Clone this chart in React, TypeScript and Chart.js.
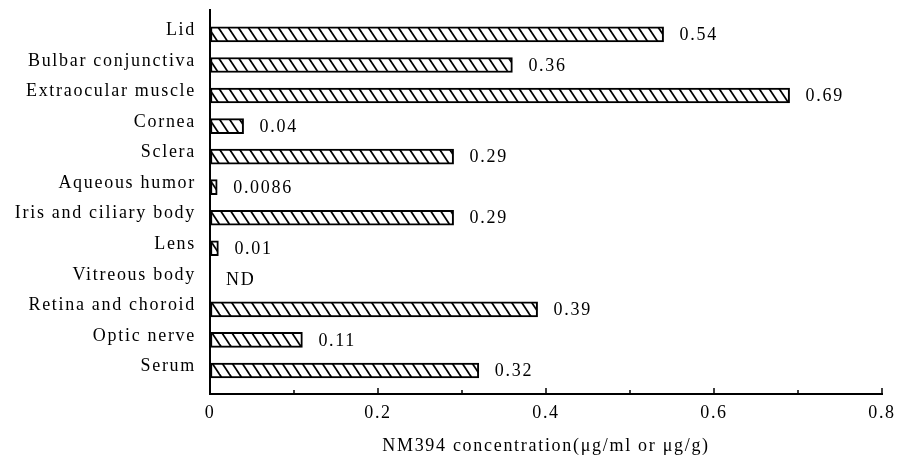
import React, { useEffect, useRef } from 'react';
import { Chart, registerables } from 'chart.js';

Chart.register(...registerables);

const categories = [
  'Lid',
  'Bulbar conjunctiva',
  'Extraocular muscle',
  'Cornea',
  'Sclera',
  'Aqueous humor',
  'Iris and ciliary body',
  'Lens',
  'Vitreous body',
  'Retina and choroid',
  'Optic nerve',
  'Serum',
];
const values: (number | null)[] = [0.54, 0.36, 0.69, 0.04, 0.29, 0.0086, 0.29, 0.01, null, 0.39, 0.11, 0.32];
const valueLabels = ['0.54', '0.36', '0.69', '0.04', '0.29', '0.0086', '0.29', '0.01', 'ND', '0.39', '0.11', '0.32'];
const xMin = 0;
const xMax = 0.8;
const xStep = 0.1;
const xLabeled = ['0', '0.2', '0.4', '0.6', '0.8'];
const xTitle = 'NM394 concentration(μg/ml or μg/g)';

const FONT = '"Liberation Serif", "Times New Roman", serif';
const SPACING = '1.7px';

function makeHatch(): CanvasPattern | string {
  const w = 10;
  const h = 15;
  const c = document.createElement('canvas');
  c.width = w;
  c.height = h;
  const g = c.getContext('2d');
  if (!g) return '#fff';
  g.fillStyle = '#fff';
  g.fillRect(0, 0, w, h);
  g.strokeStyle = '#000';
  g.lineWidth = 1.8;
  const k = w / h;
  for (const a of [-w, 0, w]) {
    g.beginPath();
    g.moveTo(a - 2 * k, -2);
    g.lineTo(a + w + 2 * k, h + 2);
    g.stroke();
  }
  const p = g.createPattern(c, 'repeat');
  return p || '#fff';
}

const letterSpacingPlugin = {
  id: 'letterSpacing',
  beforeInit(chart: any) {
    chart.ctx.letterSpacing = SPACING;
  },
  beforeUpdate(chart: any) {
    chart.ctx.letterSpacing = SPACING;
  },
  beforeDraw(chart: any) {
    chart.ctx.letterSpacing = SPACING;
  },
};

const inwardTicks = {
  id: 'inwardTicks',
  afterDraw(chart: any) {
    const sx = chart.scales.x;
    const ctx = chart.ctx;
    const bottom = chart.chartArea.bottom;
    ctx.save();
    ctx.strokeStyle = '#000';
    ctx.lineWidth = 1.5;
    sx.ticks.forEach((t: any) => {
      const px = sx.getPixelForValue(t.value);
      const major = Math.round(t.value * 10) % 2 === 0;
      ctx.beginPath();
      ctx.moveTo(px, bottom);
      ctx.lineTo(px, bottom - (major ? 6 : 4));
      ctx.stroke();
    });
    ctx.restore();
  },
};

const valueLabelPlugin = {
  id: 'valueLabels',
  afterDatasetsDraw(chart: any) {
    const ctx = chart.ctx;
    const sx = chart.scales.x;
    const sy = chart.scales.y;
    ctx.save();
    ctx.fillStyle = '#000';
    ctx.font = `18px ${FONT}`;
    ctx.textAlign = 'left';
    ctx.textBaseline = 'middle';
    valueLabels.forEach((lab, i) => {
      const v = values[i];
      const px = sx.getPixelForValue(v == null ? 0 : v);
      const py = sy.getPixelForValue(i);
      ctx.fillText(lab, px + 16, py + 1);
    });
    ctx.restore();
  },
};

export default function App() {
  const ref = useRef<HTMLCanvasElement | null>(null);

  useEffect(() => {
    if (!ref.current) return;
    const hatch = makeHatch();
    const chart = new Chart(ref.current, {
      type: 'bar',
      data: {
        datasets: [
          {
            data: values.map((v, i) => ({ x: v as any, y: i })),
            backgroundColor: hatch as any,
            borderColor: '#000',
            borderWidth: 2,
            borderSkipped: false,
            barThickness: 15,
          },
        ],
      },
      options: {
        indexAxis: 'y',
        animation: false,
        responsive: true,
        maintainAspectRatio: false,
        layout: { padding: { top: 10, right: 15, left: 0, bottom: 0 } },
        plugins: {
          legend: { display: false },
          tooltip: { enabled: false },
        },
        scales: {
          x: {
            type: 'linear',
            min: xMin,
            max: xMax,
            offset: false,
            afterFit: (s: any) => {
              s.height = 64;
              s.paddingLeft = 0;
              s.paddingRight = 0;
            },
            afterBuildTicks: (s: any) => {
              const t = [];
              const n = Math.round((xMax - xMin) / xStep);
              for (let k = 0; k <= n; k++) t.push({ value: +(xMin + k * xStep).toFixed(2) });
              s.ticks = t;
            },
            ticks: {
              autoSkip: false,
              maxRotation: 0,
              padding: 8,
              color: '#000',
              font: { family: FONT, size: 18 },
              callback: (v: any) => {
                const r = Math.round(Number(v) * 10);
                return r % 2 === 0 ? xLabeled[r / 2] : '';
              },
            },
            grid: { display: true, drawOnChartArea: false, drawTicks: false },
            border: { display: true, color: '#000', width: 2 },
            title: {
              display: true,
              text: xTitle,
              color: '#000',
              font: { family: FONT, size: 18 },
              padding: { top: 2, bottom: 1 },
            },
          },
          y: {
            type: 'linear',
            reverse: true,
            offset: false,
            min: -0.8,
            max: 11.77,
            afterFit: (s: any) => {
              s.width = 210;
              s.paddingTop = 0;
              s.paddingBottom = 0;
            },
            afterBuildTicks: (s: any) => {
              s.ticks = categories.map((_, i) => ({ value: i }));
            },
            ticks: {
              autoSkip: false,
              padding: 14,
              labelOffset: -4,
              color: '#000',
              font: { family: FONT, size: 18 },
              callback: (v: any) => categories[Number(v)] ?? '',
            },
            grid: { display: true, drawOnChartArea: false, drawTicks: false },
            border: { display: true, color: '#000', width: 2 },
          },
        },
      },
      plugins: [letterSpacingPlugin, inwardTicks, valueLabelPlugin],
    });
    return () => chart.destroy();
  }, []);

  return (
    <div style={{ position: 'fixed', left: 0, top: 0, width: 897, height: 458, background: '#fff' }}>
      <canvas ref={ref} />
    </div>
  );
}
